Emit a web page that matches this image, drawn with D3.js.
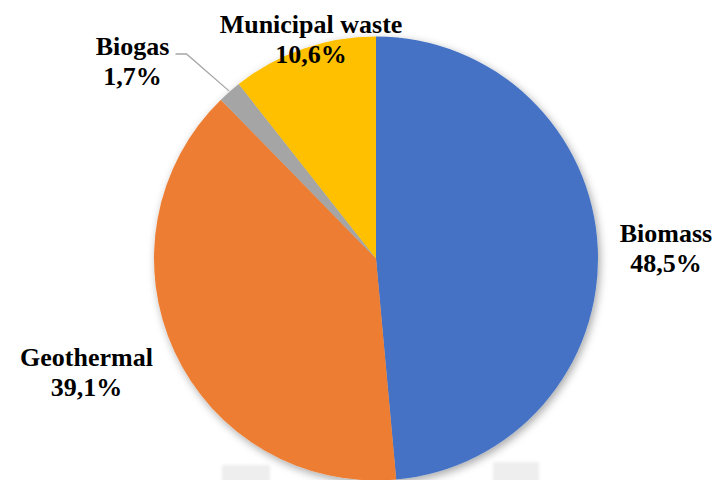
<!DOCTYPE html>
<html>
<head>
<meta charset="utf-8">
<script src="https://cdn.jsdelivr.net/npm/d3@7"></script>
<style>
  html, body { margin: 0; padding: 0; background: #fff; }
  svg { display: block; }
</style>
</head>
<body>
<svg id="chart" width="714" height="480"></svg>
<script>
// Renewable heat sources, share of total (%)
const categories = ["Biomass", "Geothermal", "Biogas", "Municipal waste"];
const shares = [48.5, 39.1, 1.7, 10.6];
const shareLabels = ["48,5%", "39,1%", "1,7%", "10,6%"];
const colors = ["#4472C4", "#ED7D31", "#A5A5A5", "#FFC000"];

// Layout
const cx = 376, cy = 258.5, radius = 222;
// label block anchors: [x, first-line baseline]
const labelAnchors = [[666, 242], [86.5, 366], [132.5, 55], [311, 33]];
const lineGap = 30;
const labelFont = "Liberation Serif";

const svg = d3.select("#chart");

const defs = svg.append("defs");
const f = defs.append("filter").attr("id", "shadow")
  .attr("x", "-20%").attr("y", "-20%").attr("width", "140%").attr("height", "140%");
f.append("feDropShadow")
  .attr("dx", 2).attr("dy", 3).attr("stdDeviation", 4)
  .attr("flood-color", "#000").attr("flood-opacity", 0.35);
defs.append("filter").attr("id", "soft")
  .append("feGaussianBlur").attr("stdDeviation", 1.5);

// faint grey blocks along the bottom edge
svg.append("g").attr("filter", "url(#soft)")
  .selectAll("rect")
  .data([[222, 465, 48, 20], [493, 462, 46, 22]])
  .join("rect")
  .attr("x", d => d[0]).attr("y", d => d[1])
  .attr("width", d => d[2]).attr("height", d => d[3])
  .attr("fill", "#eeeeee");

const data = categories.map((c, i) => ({ name: c, value: shares[i], label: shareLabels[i], color: colors[i] }));

const pie = d3.pie().sort(null).value(d => d.value).startAngle(0).endAngle(2 * Math.PI);
const arcs = pie(data);
const arc = d3.arc().innerRadius(0).outerRadius(radius);

const g = svg.append("g").attr("transform", `translate(${cx},${cy})`);

g.append("g").attr("filter", "url(#shadow)")
  .selectAll("path")
  .data(arcs)
  .join("path")
  .attr("d", arc)
  .attr("fill", d => d.data.color);

// Leader line for the small Biogas slice
const bio = arcs[2];
const midA = (bio.startAngle + bio.endAngle) / 2;
const edge = [cx + Math.sin(midA) * (radius + 1), cy - Math.cos(midA) * (radius + 1)];
const bioAnchor = labelAnchors[2];
svg.append("polyline")
  .attr("points", [[bioAnchor[0] + 43, bioAnchor[1] - 1], [bioAnchor[0] + 54, bioAnchor[1] - 1], edge].map(p => p.join(",")).join(" "))
  .attr("fill", "none")
  .attr("stroke", "#A6A6A6")
  .attr("stroke-width", 1.3);

// Labels
const labels = svg.append("g");
data.forEach((d, i) => {
  const [x, y] = labelAnchors[i];
  const t = labels.append("text")
    .attr("text-anchor", "middle")
    .attr("font-family", labelFont)
    .attr("font-weight", "bold")
    .attr("font-size", 26)
    .attr("fill", "#000");
  t.append("tspan").attr("x", x).attr("y", y).text(d.name);
  t.append("tspan").attr("x", x).attr("y", y + lineGap).text(d.label);
});
</script>
</body>
</html>
